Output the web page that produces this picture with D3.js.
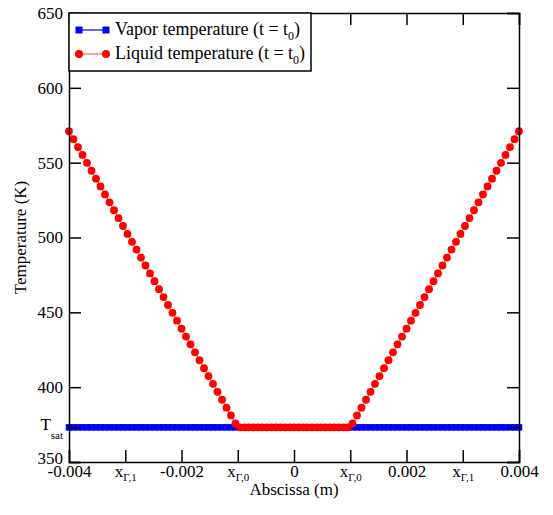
<!DOCTYPE html>
<html>
<head>
<meta charset="utf-8">
<script src="https://cdn.jsdelivr.net/npm/d3@7"></script>
<style>
  body { margin: 0; background: #fff; }
  svg text { font-family: "Liberation Serif", "Times New Roman", Tinos, "DejaVu Serif", serif; }
</style>
</head>
<body>
<svg id="chart"></svg>
<script>
// Grid positions (m)
const xGrid = [
  -0.004, -0.00392, -0.00384, -0.00376, -0.00368, -0.0036, -0.00352, -0.00344, -0.00336, -0.00328,
  -0.0032, -0.00312, -0.00304, -0.00296, -0.00288, -0.0028, -0.00272, -0.00264, -0.00256, -0.00248,
  -0.0024, -0.00232, -0.00224, -0.00216, -0.00208, -0.002, -0.00192, -0.00184, -0.00176, -0.00168,
  -0.0016, -0.00152, -0.00144, -0.00136, -0.00128, -0.0012, -0.00112, -0.00104, -0.00096, -0.00088,
  -0.0008, -0.00072, -0.00064, -0.00056, -0.00048, -0.0004, -0.00032, -0.00024, -0.00016, -0.00008,
  0,
  0.00008, 0.00016, 0.00024, 0.00032, 0.0004, 0.00048, 0.00056, 0.00064, 0.00072, 0.0008,
  0.00088, 0.00096, 0.00104, 0.00112, 0.0012, 0.00128, 0.00136, 0.00144, 0.00152, 0.0016,
  0.00168, 0.00176, 0.00184, 0.00192, 0.002, 0.00208, 0.00216, 0.00224, 0.00232, 0.0024,
  0.00248, 0.00256, 0.00264, 0.00272, 0.0028, 0.00288, 0.00296, 0.00304, 0.00312, 0.0032,
  0.00328, 0.00336, 0.00344, 0.00352, 0.0036, 0.00368, 0.00376, 0.00384, 0.00392, 0.004
];

// Vapor temperature (K)
const vaporT = [
  373.15, 373.15, 373.15, 373.15, 373.15, 373.15, 373.15, 373.15, 373.15, 373.15,
  373.15, 373.15, 373.15, 373.15, 373.15, 373.15, 373.15, 373.15, 373.15, 373.15,
  373.15, 373.15, 373.15, 373.15, 373.15, 373.15, 373.15, 373.15, 373.15, 373.15,
  373.15, 373.15, 373.15, 373.15, 373.15, 373.15, 373.15, 373.15, 373.15, 373.15,
  373.15, 373.15, 373.15, 373.15, 373.15, 373.15, 373.15, 373.15, 373.15, 373.15,
  373.15,
  373.15, 373.15, 373.15, 373.15, 373.15, 373.15, 373.15, 373.15, 373.15, 373.15,
  373.15, 373.15, 373.15, 373.15, 373.15, 373.15, 373.15, 373.15, 373.15, 373.15,
  373.15, 373.15, 373.15, 373.15, 373.15, 373.15, 373.15, 373.15, 373.15, 373.15,
  373.15, 373.15, 373.15, 373.15, 373.15, 373.15, 373.15, 373.15, 373.15, 373.15,
  373.15, 373.15, 373.15, 373.15, 373.15, 373.15, 373.15, 373.15, 373.15, 373.15
];

// Liquid temperature (K)
const liquidT = [
  571.0, 565.7, 560.4, 555.2, 549.9, 544.6, 539.3, 534.1, 528.8, 523.5,
  518.2, 513.0, 507.7, 502.4, 497.1, 491.9, 486.6, 481.3, 476.0, 470.8,
  465.5, 460.2, 454.9, 449.7, 444.4, 439.1, 433.8, 428.6, 423.3, 418.0,
  412.7, 407.4, 402.2, 396.9, 391.6, 386.3, 381.1, 375.8, 373.15, 373.15,
  373.15, 373.15, 373.15, 373.15, 373.15, 373.15, 373.15, 373.15, 373.15, 373.15,
  373.15,
  373.15, 373.15, 373.15, 373.15, 373.15, 373.15, 373.15, 373.15, 373.15, 373.15,
  373.15, 373.15, 375.8, 381.1, 386.3, 391.6, 396.9, 402.2, 407.4, 412.7,
  418.0, 423.3, 428.6, 433.8, 439.1, 444.4, 449.7, 454.9, 460.2, 465.5,
  470.8, 476.0, 481.3, 486.6, 491.9, 497.1, 502.4, 507.7, 513.0, 518.2,
  523.5, 528.8, 534.1, 539.3, 544.6, 549.9, 555.2, 560.4, 565.7, 571.0
];

// Tick values and labels
const xTicks = [-0.004, -0.003, -0.002, -0.001, 0, 0.001, 0.002, 0.003, 0.004];
const xTickText = ["-0.004", "x", "-0.002", "x", "0", "x", "0.002", "x", "0.004"];
const xTickSub = ["", "\u0393,1", "", "\u0393,0", "", "\u0393,0", "", "\u0393,1", ""];
const yTicks = [350, 373.15, 400, 450, 500, 550, 600, 650];
const yTickText = ["350", "T", "400", "450", "500", "550", "600", "650"];
const yTickSub = ["", "sat", "", "", "", "", "", ""];

const seriesNames = ["Vapor temperature (t = t", "Liquid temperature (t = t"];

const serif = '"Liberation Serif", "Times New Roman", Tinos, "DejaVu Serif", serif';

const W = 553, H = 515;
const margin = { top: 13, right: 34, bottom: 53, left: 69 };
const width = W - margin.left - margin.right;
const height = H - margin.top - margin.bottom;

const svg = d3.select("#chart").attr("width", W).attr("height", H)
  .attr("font-family", serif);

const x = d3.scaleLinear().domain([-0.004, 0.004]).range([0, width]);
const y = d3.scaleLinear().domain([350, 650]).range([height, 0]);

const chart = svg.append("g")
  .attr("transform", `translate(${margin.left},${margin.top})`);

// clip for the plot area
svg.append("clipPath").attr("id", "plot-clip")
  .append("rect").attr("x", -6).attr("y", -6).attr("width", width + 12).attr("height", height + 12);

const plot = chart.append("g").attr("clip-path", "url(#plot-clip)");

const vapor = xGrid.map((d, i) => ({ x: d, t: vaporT[i] }));
const liquid = xGrid.map((d, i) => ({ x: d, t: liquidT[i] }));

const line = d3.line().x(d => x(d.x)).y(d => y(d.t));

// Vapor series
plot.append("path")
  .datum(vapor)
  .attr("d", line)
  .attr("fill", "none")
  .attr("stroke", "#0000ff")
  .attr("stroke-width", 1);

const sq = 6.5;
plot.selectAll(".vap")
  .data(vapor)
  .join("rect")
  .attr("class", "vap")
  .attr("x", d => x(d.x) - sq / 2)
  .attr("y", d => y(d.t) - sq / 2)
  .attr("width", sq)
  .attr("height", sq)
  .attr("fill", "#0000ff");

// Liquid series
plot.append("path")
  .datum(liquid)
  .attr("d", line)
  .attr("fill", "none")
  .attr("stroke", "#ff6060")
  .attr("stroke-width", 1);

plot.selectAll(".liq")
  .data(liquid)
  .join("circle")
  .attr("class", "liq")
  .attr("cx", d => x(d.x))
  .attr("cy", d => y(d.t))
  .attr("r", 3.9)
  .attr("fill", "#ff0000");

// Axes (ticks pointing inward on all four sides)
const tickLen = 12;

const xAxis = chart.append("g")
  .attr("transform", `translate(0,${height})`)
  .call(d3.axisBottom(x).tickValues(xTicks).tickSize(-tickLen).tickPadding(6)
    .tickFormat((d, i) => xTickText[i]));

xAxis.selectAll(".tick text")
  .attr("y", 3)
  .attr("dy", "0.72em")
  .attr("font-size", "17px")
  .each(function (d, i) {
    if (xTickSub[i]) {
      d3.select(this).append("tspan")
        .attr("dy", "4")
        .attr("font-size", "11px")
        .text(xTickSub[i]);
    }
  });

const yAxis = chart.append("g")
  .call(d3.axisLeft(y).tickValues(yTicks).tickSize(-tickLen).tickPadding(6)
    .tickFormat((d, i) => yTickText[i]));

yAxis.selectAll(".tick text")
  .attr("x", -6)
  .attr("font-size", "17px")
  .each(function (d, i) {
    if (yTickSub[i]) {
      d3.select(this).attr("dy", "0.1em");
      d3.select(this).append("tspan")
        .attr("dy", "9")
        .attr("font-size", "11px")
        .text(yTickSub[i]);
    }
    if (i === 0) {
      // lowest label sits just above the corner like in the original
      d3.select(this).attr("dy", "0.1em");
    }
  });

chart.append("g")
  .call(d3.axisTop(x).tickValues(xTicks).tickSize(-tickLen).tickFormat(""));

chart.append("g")
  .attr("transform", `translate(${width},0)`)
  .call(d3.axisRight(y).tickValues(yTicks).tickSize(-tickLen).tickFormat(""));

chart.selectAll("g").attr("font-family", serif);
chart.selectAll(".domain").attr("stroke", "#000").attr("stroke-width", 1.5);
chart.selectAll(".tick line").attr("stroke", "#000").attr("stroke-width", 1.5);
chart.selectAll(".tick text").attr("fill", "#000");

// Axis titles
svg.append("text")
  .attr("x", margin.left + width / 2)
  .attr("y", H - 20)
  .attr("text-anchor", "middle")
  .attr("font-size", "17px")
  .text("Abscissa (m)");

svg.append("text")
  .attr("transform", `translate(26,${margin.top + height / 2}) rotate(-90)`)
  .attr("text-anchor", "middle")
  .attr("font-size", "17px")
  .text("Temperature (K)");

// Legend
const legend = chart.append("g");
legend.append("rect")
  .attr("x", 0).attr("y", 0)
  .attr("width", 242).attr("height", 58)
  .attr("fill", "#fff")
  .attr("stroke", "#000")
  .attr("stroke-width", 1.5);

const legendColors = ["#0000ff", "#ff0000"];
const legendLine = ["#0000ff", "#ff6060"];
seriesNames.forEach((name, i) => {
  const ly = 17 + i * 24;
  const row = legend.append("g").attr("transform", `translate(0,${ly})`);
  row.append("line")
    .attr("x1", 10).attr("x2", 37).attr("y1", 0).attr("y2", 0)
    .attr("stroke", legendLine[i]).attr("stroke-width", 1.2);
  [10, 37].forEach(mx => {
    if (i === 0) {
      row.append("rect").attr("x", mx - 3.5).attr("y", -3.5)
        .attr("width", 7).attr("height", 7).attr("fill", legendColors[i]);
    } else {
      row.append("circle").attr("cx", mx).attr("cy", 0).attr("r", 4)
        .attr("fill", legendColors[i]);
    }
  });
  const txt = row.append("text")
    .attr("x", 46).attr("y", 0).attr("dy", "0.3em")
    .attr("font-size", "18px")
    .text(name);
  txt.append("tspan").attr("dy", "5").attr("font-size", "12px").text("0");
  txt.append("tspan").attr("dy", "-5").text(")");
});
</script>
</body>
</html>
